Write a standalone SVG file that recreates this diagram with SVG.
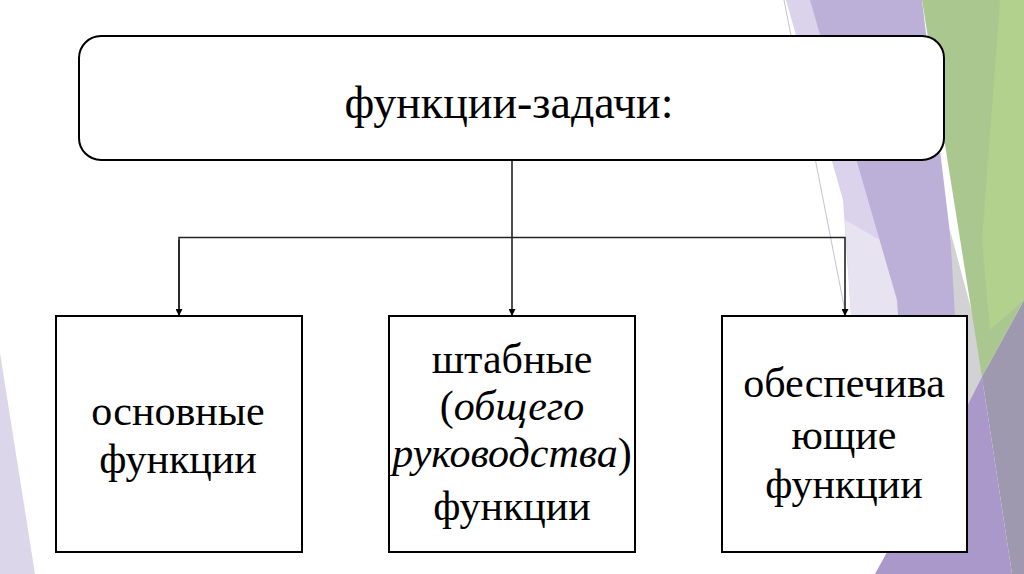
<svg xmlns="http://www.w3.org/2000/svg" width="1024" height="574" viewBox="0 0 1024 574">
  <defs>
    <style>
      .box { fill: #ffffff; stroke: #000000; stroke-width: 2; }
      .conn { fill: none; stroke: #222222; stroke-width: 1.6; }
      .t { fill: #000000; text-anchor: middle; }
      .big { font-size: 46px; }
      .mid { font-size: 42px; }
      .it { font-style: italic; }
    </style>
    <marker id="arr" viewBox="0 0 10 10" refX="10" refY="5" markerWidth="7" markerHeight="7" markerUnits="userSpaceOnUse" orient="auto">
      <path d="M0,0 L10,5 L0,10 z" fill="#000000"/>
    </marker>
  </defs>

  <g id="background">
    <rect x="0" y="0" width="1024" height="574" fill="#ffffff"/>
    <polygon points="0,353 35,574 0,574" fill="#dcd6ea"/>
    <polygon points="786,0 812,0 897,300 905,330 852,330 843,200" fill="#dbd3eb"/>
    <polygon points="845,220 880,240 905,330 852,330" fill="#e7e3f1"/>
    <polygon points="810,0 922,0 958,300 960,420 905,420 897,300" fill="#bcb0d9"/>
    <polygon points="950,230 990,380 968,404 955,316" fill="#d2d2d4"/>
    <polygon points="922,0 1024,0 1024,300 982,377" fill="#a9c78f"/>
    <polygon points="1000,0 1024,0 1024,300 990,330 982,240" fill="#b1d18c"/>
    <polygon points="1024,300 1024,574 1012,574 982,377" fill="#9e99ae"/>
    <polygon points="982,377 1012,574 875,574 960,420" fill="#a998c9"/>
    <line x1="784" y1="0" x2="846" y2="316" stroke="#c4c2d0" stroke-width="1"/>
  </g>

  <g id="connectors">
    <line class="conn" x1="512" y1="160" x2="512" y2="316" marker-end="url(#arr)"/>
    <polyline class="conn" points="179,316 179,237.5 845,237.5 845,316" marker-end="url(#arr)"/>
    <line class="conn" x1="179" y1="240" x2="179" y2="316" marker-end="url(#arr)"/>
  </g>

  <g id="node-top" font-family="'Liberation Serif', 'DejaVu Serif', serif">
    <rect class="box" x="79" y="36" width="865" height="124" rx="22" ry="22"/>
    <text class="t big" x="509" y="118">функции-задачи:</text>
  </g>

  <g id="node-main" font-family="'Liberation Serif', 'DejaVu Serif', serif">
    <rect class="box" x="56" y="316" width="246" height="236"/>
    <text class="t mid" x="178" y="425">основные</text>
    <text class="t mid" x="178" y="473">функции</text>
  </g>

  <g id="node-staff" font-family="'Liberation Serif', 'DejaVu Serif', serif">
    <rect class="box" x="389" y="316" width="246" height="236"/>
    <text class="t mid" x="512" y="373">штабные</text>
    <text class="t mid" x="512" y="420">(<tspan class="it">общего</tspan></text>
    <text class="t mid" x="512" y="467"><tspan class="it">руководства</tspan>)</text>
    <text class="t mid" x="512" y="520">функции</text>
  </g>

  <g id="node-support" font-family="'Liberation Serif', 'DejaVu Serif', serif">
    <rect class="box" x="722" y="316" width="245" height="236"/>
    <text class="t mid" x="844" y="397">обеспечива</text>
    <text class="t mid" x="844" y="449">ющие</text>
    <text class="t mid" x="844" y="498">функции</text>
  </g>
</svg>
